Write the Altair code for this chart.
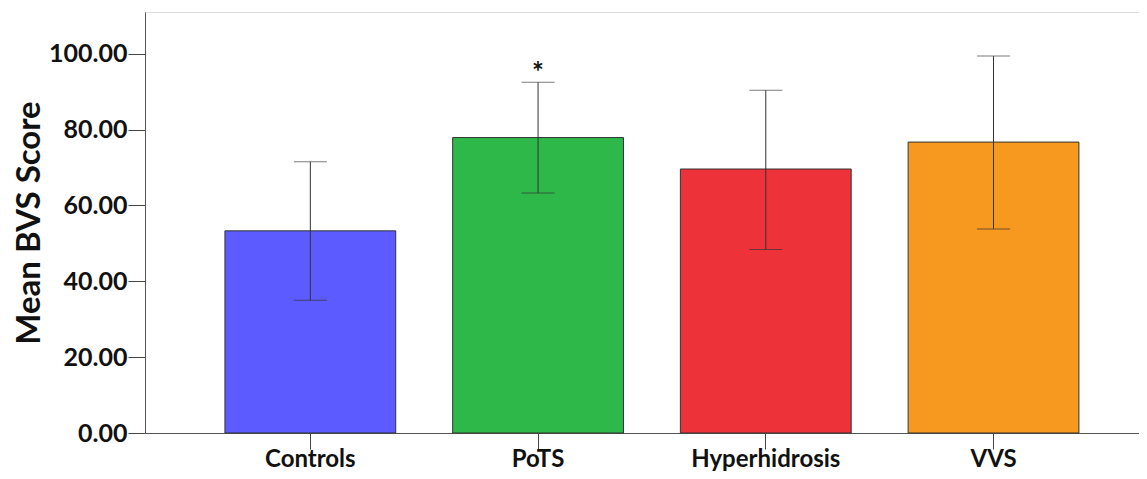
import altair as alt
import pandas as pd

groups = ["Controls", "PoTS", "Hyperhidrosis", "VVS"]
means = [53.3, 77.9, 69.6, 76.7]
err_low = [35.0, 63.3, 48.4, 53.8]
err_high = [71.5, 92.5, 90.4, 99.4]
sig = ["", "*", "", ""]
colors = ["#5B5BFF", "#2EB84A", "#EE3239", "#F7991F"]
y_ticks = [0, 20, 40, 60, 80, 100]

df = pd.DataFrame({"group": groups, "mean": means, "lo": err_low, "hi": err_high, "sig": sig})

FONT = "Lato"
xscale = alt.Scale(domain=groups, paddingInner=0.25, paddingOuter=0.325, align=0.54)
yscale = alt.Scale(domain=[0, 111], nice=False, zero=True)

x = alt.X("group:N", scale=xscale, sort=groups, title=None,
          axis=alt.Axis(labelAngle=0, labelFont=FONT, labelFontWeight="bold", labelFontSize=24,
                        labelColor="#111", tickSize=16, tickColor="#444", domainColor="#555",
                        labelPadding=-2))

bars = alt.Chart(df).mark_bar(stroke="#333", strokeWidth=1).encode(
    x=x,
    y=alt.Y("mean:Q", scale=yscale, title="Mean BVS Score",
            axis=alt.Axis(values=y_ticks, format=".2f", grid=False, labelFont=FONT,
                          labelFontWeight="bold", labelFontSize=25, labelColor="#111",
                          tickSize=17, tickColor="#444", domainColor="#555", labelPadding=1,
                          titleFont=FONT, titleFontSize=33, titleFontWeight="bold",
                          titleColor="#111", titlePadding=2)),
    color=alt.Color("group:N", scale=alt.Scale(domain=groups, range=colors), legend=None),
)

rules = alt.Chart(df).mark_rule(color="#333", strokeWidth=1).encode(
    x=alt.X("group:N", scale=xscale, sort=groups),
    y=alt.Y("lo:Q", scale=yscale),
    y2="hi:Q",
)

caps_hi = alt.Chart(df).mark_tick(color="#444", thickness=1, size=33, orient="horizontal").encode(
    x=alt.X("group:N", scale=xscale, sort=groups),
    y=alt.Y("hi:Q", scale=yscale),
)
caps_lo = alt.Chart(df).mark_tick(color="#333", thickness=1, size=33, orient="horizontal").encode(
    x=alt.X("group:N", scale=xscale, sort=groups),
    y=alt.Y("lo:Q", scale=yscale),
)

stars = alt.Chart(df).mark_text(font=FONT, fontWeight="bold", fontSize=28, color="#111", dy=-8,
                                baseline="middle").encode(
    x=alt.X("group:N", scale=xscale, sort=groups),
    y=alt.Y("hi:Q", scale=yscale),
    text="sig:N",
)

chart = alt.layer(bars, rules, caps_hi, caps_lo, stars).properties(
    width=1002, height=421,
    autosize=alt.AutoSizeParams(type="none"),
    padding={"left": 137, "top": 4, "right": -8, "bottom": 38},
).configure_view(fill="#F0F0F0", stroke="#666", strokeWidth=1.5).configure(background="white")

chart.save("out.html", embed_options={"renderer": "svg", "actions": False})
